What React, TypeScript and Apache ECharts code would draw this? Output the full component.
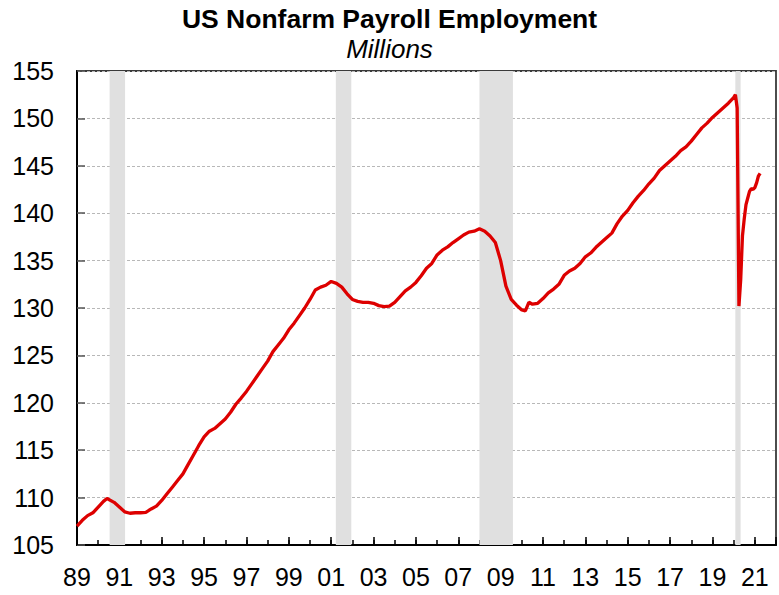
import React, { useEffect, useRef } from "react";
import * as echarts from "echarts";

const months = [
  "1989-01", "1989-04", "1989-07", "1989-10",
  "1990-01", "1990-04", "1990-06", "1990-10",
  "1991-01", "1991-04", "1991-07", "1991-10",
  "1992-01", "1992-04", "1992-07", "1992-10",
  "1993-01", "1993-04", "1993-07", "1993-10",
  "1994-01", "1994-04", "1994-07", "1994-10",
  "1995-01", "1995-04", "1995-07", "1995-10",
  "1996-01", "1996-04", "1996-07", "1996-10",
  "1997-01", "1997-04", "1997-07", "1997-10",
  "1998-01", "1998-04", "1998-07", "1998-10",
  "1999-01", "1999-04", "1999-07", "1999-10",
  "2000-01", "2000-04", "2000-07", "2000-10",
  "2001-01", "2001-04", "2001-07", "2001-10",
  "2002-01", "2002-04", "2002-07", "2002-10",
  "2003-01", "2003-04", "2003-07", "2003-10",
  "2004-01", "2004-04", "2004-07", "2004-10",
  "2005-01", "2005-04", "2005-07", "2005-10",
  "2006-01", "2006-04", "2006-07", "2006-10",
  "2007-01", "2007-04", "2007-07", "2007-10",
  "2008-01", "2008-04", "2008-07", "2008-10",
  "2009-01", "2009-04", "2009-07", "2009-10",
  "2010-01", "2010-03", "2010-05", "2010-07", "2010-10",
  "2011-01", "2011-04", "2011-07", "2011-10",
  "2012-01", "2012-04", "2012-07", "2012-10",
  "2013-01", "2013-04", "2013-07", "2013-10",
  "2014-01", "2014-04", "2014-07", "2014-10",
  "2015-01", "2015-04", "2015-07", "2015-10",
  "2016-01", "2016-04", "2016-07", "2016-10",
  "2017-01", "2017-04", "2017-07", "2017-10",
  "2018-01", "2018-04", "2018-07", "2018-10",
  "2019-01", "2019-04", "2019-07", "2019-10",
  "2020-01", "2020-02", "2020-03", "2020-04", "2020-05", "2020-06",
  "2020-07", "2020-08", "2020-09", "2020-10", "2020-11", "2020-12",
  "2021-01", "2021-02", "2021-03", "2021-04",
];

const payrolls = [
  107.0, 107.6, 108.1, 108.4,
  109.0, 109.6, 109.9, 109.5,
  109.0, 108.5, 108.35, 108.4,
  108.4, 108.45, 108.8, 109.1,
  109.7, 110.4, 111.1, 111.8,
  112.5, 113.5, 114.5, 115.5,
  116.4, 117.0, 117.3, 117.8,
  118.3, 119.0, 119.85, 120.5,
  121.2, 122.0, 122.8, 123.6,
  124.4, 125.4, 126.1, 126.8,
  127.7, 128.4, 129.2, 130.0,
  130.9, 131.9, 132.2, 132.4,
  132.8, 132.6, 132.2, 131.5,
  130.9, 130.7, 130.6, 130.6,
  130.5, 130.25, 130.15, 130.2,
  130.6, 131.2, 131.8, 132.2,
  132.7, 133.4, 134.2, 134.7,
  135.6, 136.1, 136.45, 136.9,
  137.3, 137.7, 138.0, 138.1,
  138.35, 138.1, 137.6, 136.9,
  135.0, 132.3, 130.9, 130.3,
  129.8, 129.7, 130.6, 130.4, 130.5,
  131.0, 131.6, 132.0, 132.5,
  133.45, 133.9, 134.2, 134.7,
  135.4, 135.8, 136.4, 136.9,
  137.4, 137.9, 138.9, 139.7,
  140.3, 141.1, 141.8, 142.4,
  143.1, 143.7, 144.5, 145.0,
  145.5, 146.0, 146.6, 147.0,
  147.6, 148.3, 149.0, 149.5,
  150.1, 150.6, 151.1, 151.6,
  152.2, 152.5, 151.1, 130.2, 133.0, 137.6,
  139.4, 140.9, 141.6, 142.3, 142.6, 142.5,
  142.7, 143.2, 143.9, 144.2,
];

const recessionStarts = [1990.54, 2001.22, 2008.0, 2020.08];
const recessionEnds = [1991.27, 2001.95, 2009.58, 2020.33];

const firstYear = 1989;
const lastYear = 2022;
const yMin = 105;
const yMax = 155;
const yStep = 5;

const toOffset = (s: string) => {
  const [y, m] = s.split("-").map(Number);
  return y + (m - 1) / 12 - firstYear;
};

export default function App() {
  const ref = useRef<HTMLDivElement>(null);

  useEffect(() => {
    if (!ref.current) return;
    const chart = echarts.init(ref.current, null, { renderer: "svg" });
    const font = "Arial, 'Liberation Sans', sans-serif";
    const seriesData = months.map((m, i) => [toOffset(m), payrolls[i]]);
    const areas = recessionStarts.map((s, i) => [
      { xAxis: s - firstYear },
      { xAxis: recessionEnds[i] - firstYear },
    ]);

    chart.setOption({
      animation: false,
      backgroundColor: "#ffffff",
      title: [
        {
          text: "US Nonfarm Payroll Employment",
          left: "center",
          top: 5,
          padding: 0,
          textStyle: { fontFamily: font, fontSize: 26.5, fontWeight: "bold", color: "#000" },
        },
        {
          text: "Millions",
          left: "center",
          top: 36,
          padding: 0,
          textStyle: {
            fontFamily: font,
            fontSize: 26,
            fontStyle: "italic",
            fontWeight: "normal",
            color: "#000",
          },
        },
      ],
      grid: {
        left: 77,
        right: 2,
        top: 71,
        bottom: 50,
        show: true,
        borderColor: "#3a3a3a",
        borderWidth: 1.8,
        backgroundColor: "transparent",
      },
      xAxis: [
        {
          type: "value",
          min: 0,
          max: lastYear - firstYear,
          interval: 2,
          axisLine: { show: true, onZero: false, lineStyle: { color: "#000", width: 2 } },
          axisTick: { show: true, inside: true, length: 8, lineStyle: { color: "#000", width: 1.5 } },
          axisLabel: {
            margin: 19,
            fontFamily: font,
            fontSize: 25,
            color: "#000",
            formatter: (v: number) => {
              const yr = Math.round(v) + firstYear;
              if (yr >= lastYear) return "";
              return String(yr % 100).padStart(2, "0");
            },
          },
          splitLine: { show: false },
        },
        {
          type: "value",
          min: 0,
          max: lastYear - firstYear,
          interval: 1,
          position: "bottom",
          axisLine: { show: false },
          axisTick: { show: true, inside: true, length: 5, lineStyle: { color: "#000", width: 1.5 } },
          axisLabel: { show: false },
          splitLine: { show: false },
        },
      ],
      yAxis: {
        type: "value",
        min: yMin,
        max: yMax,
        interval: yStep,
        axisLine: { show: true, lineStyle: { color: "#000", width: 2 } },
        axisTick: { show: true, inside: true, length: 8, lineStyle: { color: "#555", width: 1.5 } },
        axisLabel: { margin: 23, fontFamily: font, fontSize: 25, color: "#000" },
        splitLine: { show: true, lineStyle: { color: "#b8b8b8", width: 1, type: [3, 2] } },
      },
      series: [
        {
          type: "line",
          xAxisIndex: 0,
          data: seriesData,
          showSymbol: false,
          symbol: "none",
          lineStyle: { color: "#dd0000", width: 3.3 },
          z: 5,
          markArea: {
            silent: true,
            itemStyle: { color: "#e0e0e0" },
            data: areas,
          },
        },
      ],
    });

    return () => chart.dispose();
  }, []);

  return (
    <div
      ref={ref}
      style={{ position: "fixed", left: 0, top: 0, width: 779, height: 595 }}
    />
  );
}
